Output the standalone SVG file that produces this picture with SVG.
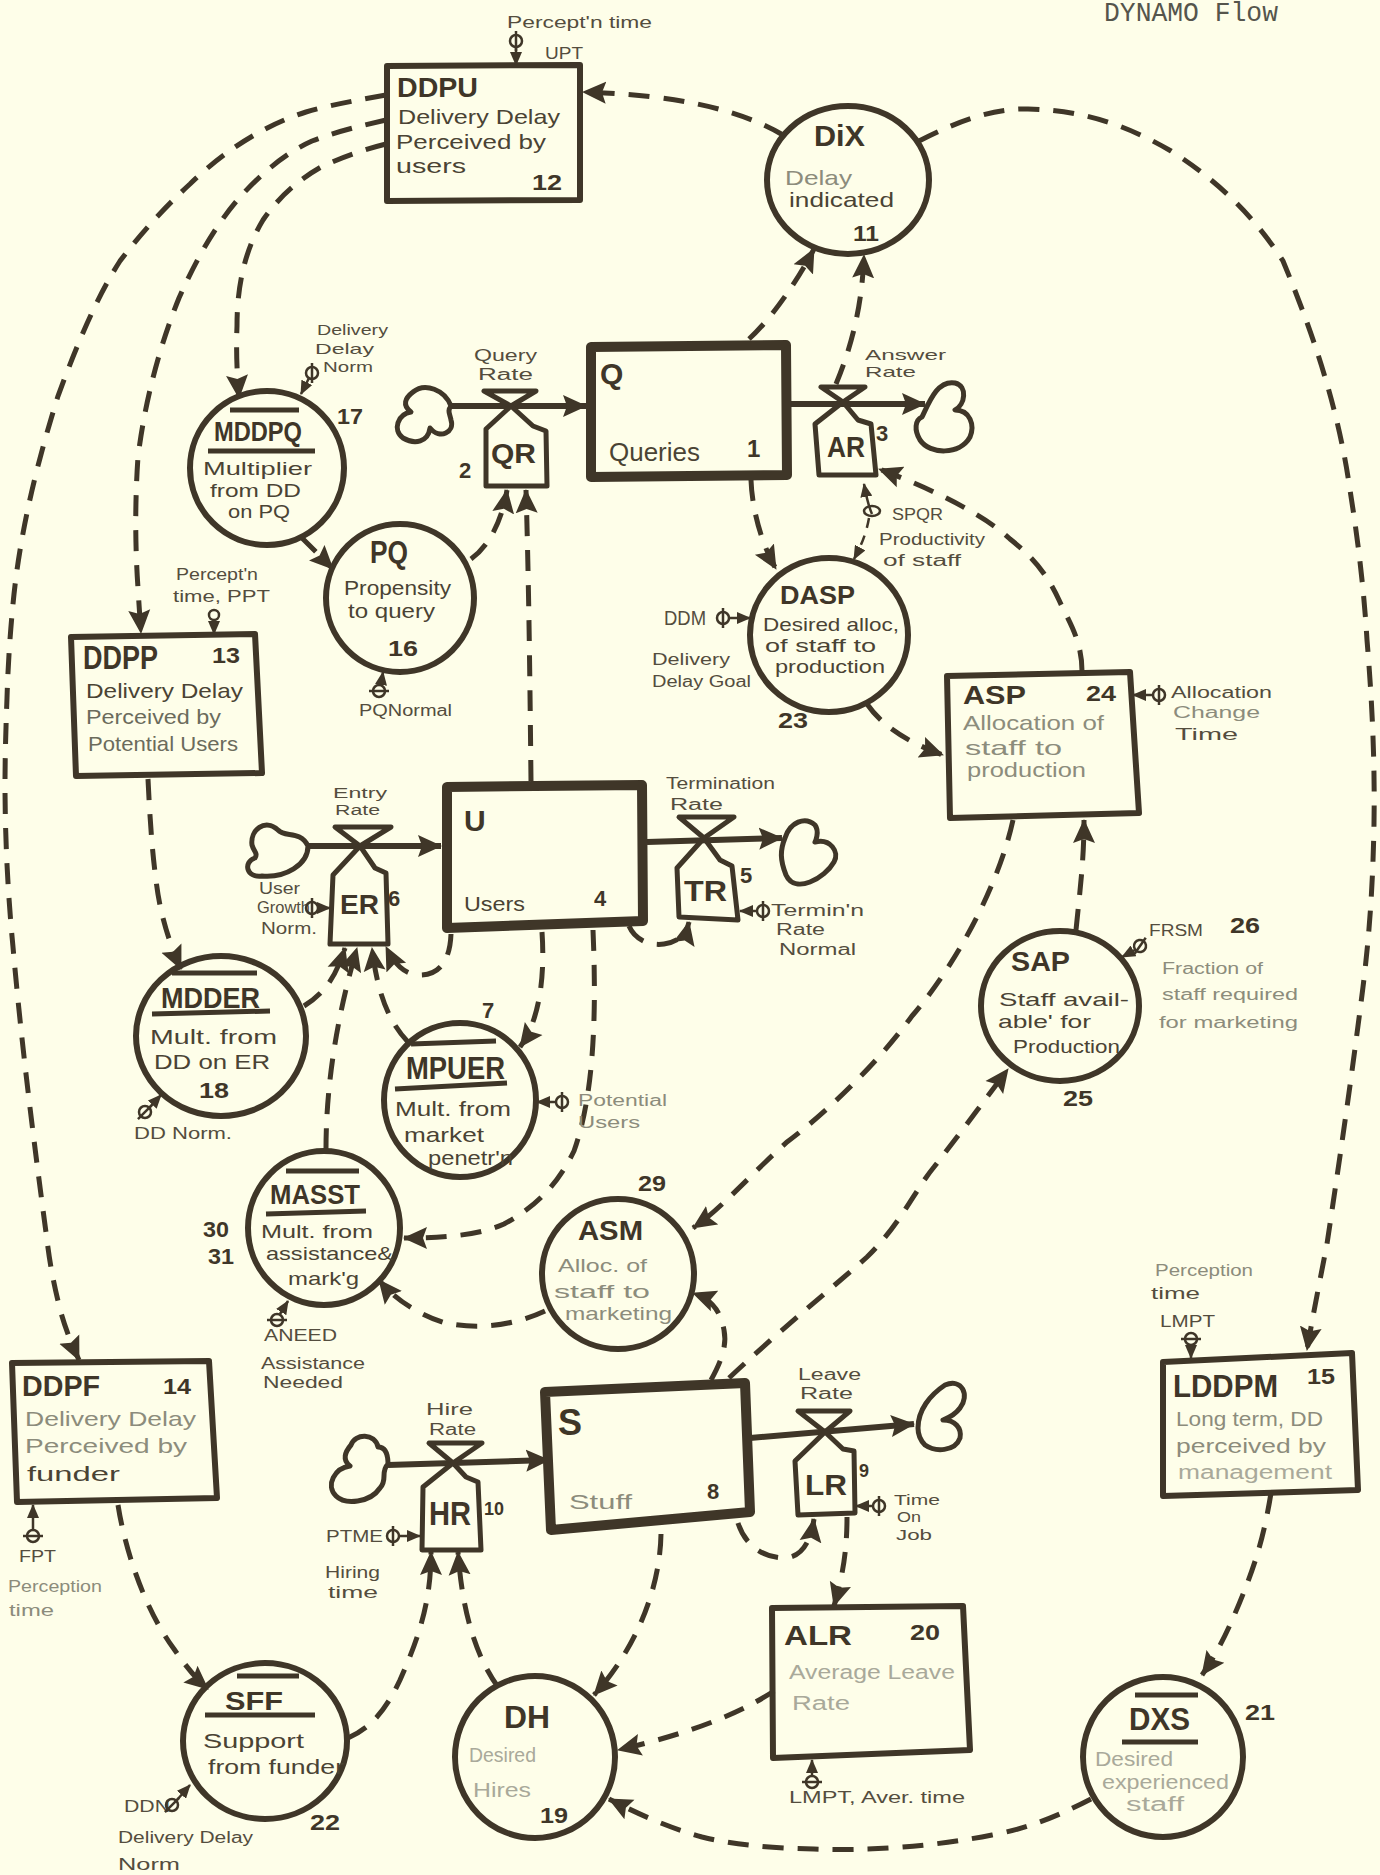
<svg xmlns="http://www.w3.org/2000/svg" width="1380" height="1875" viewBox="0 0 1380 1875">
<style>
text{font-family:"Liberation Sans",Arial,sans-serif;fill:#3f3628}
.n{font-weight:700;font-size:28px}
.c{font-weight:700;font-size:22px}
.l{font-size:21px;fill:#4a4334}
.m{font-size:19px;fill:#4a4334}
.f{font-size:21px;fill:#8c8c7c}
.g{font-size:20px;fill:#a9a99a}
.h{font-size:16px;fill:#544d3e}
.i{font-size:16px;fill:#8c8c7c}
.title{font-family:"Liberation Mono",monospace;font-size:28px;fill:#55554c}
.b{fill:none;stroke:#3f3628;stroke-width:6;stroke-linejoin:round}
.q{fill:none;stroke:#3f3628;stroke-width:10;stroke-linejoin:round}
.v{fill:none;stroke:#3f3628;stroke-width:5;stroke-linejoin:round}
.u{fill:none;stroke:#3f3628;stroke-width:5}
.d{fill:none;stroke:#3f3628;stroke-width:5;stroke-dasharray:21 14;marker-end:url(#a)}
.w{fill:none;stroke:#3f3628;stroke-width:6;marker-end:url(#a)}
.p{fill:none;stroke:#3f3628;stroke-width:2.5;marker-end:url(#s)}
</style>
<defs>
<marker id="a" markerUnits="userSpaceOnUse" viewBox="0 0 24 24" markerWidth="24" markerHeight="24" refX="23" refY="12" orient="auto"><path d="M0,1 L24,12 L0,23 L4,12Z" fill="#3f3628"/></marker>
<marker id="s" markerUnits="userSpaceOnUse" viewBox="0 0 14 12" markerWidth="14" markerHeight="12" refX="13" refY="6" orient="auto"><path d="M0,0 L14,6 L0,12Z" fill="#3f3628"/></marker>
<g id="phi"><circle cx="0" cy="0" r="6" fill="none" stroke="#3f3628" stroke-width="2.5"/><path d="M0,-10 V10" stroke="#3f3628" stroke-width="2.5" fill="none"/></g>
<g id="phh"><circle cx="0" cy="0" r="6" fill="none" stroke="#3f3628" stroke-width="2.5"/><path d="M-10,0 H10" stroke="#3f3628" stroke-width="2.5" fill="none"/></g>
</defs>
<rect width="1380" height="1875" fill="#fefee9"/>
<text class="title" x="1104" y="21" textLength="174" lengthAdjust="spacingAndGlyphs">DYNAMO Flow</text>

<g id="connectors">
<path class="d" d="M386,95 C358,100 330,105 306,112 C265,125 225,150 190,184 C165,207 142,232 120,261 C95,300 75,350 58,396 C38,460 20,530 13,604 C10,635 8,665 7,698 C6,725 5,755 5,783 C5,840 8,895 13,947 C22,1050 35,1150 47,1240 C50,1265 54,1285 60,1309 C65,1328 72,1345 79,1360"/>
<path class="d" d="M386,120 C360,126 335,132 312,141 C285,153 260,175 241,196 C215,225 195,262 179,298 C160,345 145,400 138,457 C135,500 135,545 138,588 C139,605 140,620 141,633"/>
<path class="d" d="M386,144 C362,150 340,158 321,167 C298,180 278,198 263,220 C245,250 237,285 237,326 C236,350 237,375 239,398"/>
<path class="d" d="M783,135 C740,110 680,95 583,92"/>
<path class="d" d="M919,141 C960,120 995,108 1028,109 C1090,110 1135,130 1171,151 C1225,185 1260,225 1283,261 C1320,350 1340,420 1350,490 C1358,540 1364,590 1367,640 C1372,700 1375,760 1374,824 C1373,880 1370,930 1363,987 C1350,1090 1338,1170 1327,1244 C1320,1280 1312,1320 1307,1350"/>
<path class="d" d="M749,339 C770,320 795,285 814,249"/>
<path class="d" d="M836,384 C850,350 862,310 864,255"/>
<path class="d" d="M751,480 C752,510 762,545 776,569"/>
<path class="d" d="M1082,671 C1082,640 1068,620 1059,600 C1045,570 1030,555 1010,539 C985,515 930,488 879,469"/>
<path class="d" d="M867,704 C885,730 915,745 943,755"/>
<path class="p" d="M872,514 C868,505 866,495 864,484"/>
<path class="p" stroke-dasharray="10 8" d="M869,518 C866,535 860,548 854,559"/>
<path class="d" d="M1076,930 C1080,890 1084,860 1084,820"/>
<path class="d" d="M1013,820 C1000,880 960,960 912,1016 C880,1060 830,1110 787,1142 C750,1175 720,1210 693,1228"/>
<path class="d" d="M729,1378 C780,1330 830,1290 867,1257 C900,1225 915,1190 934,1167 C955,1140 985,1100 1008,1069"/>
<path class="d" d="M301,537 L333,569"/>
<path class="d" d="M471,559 C490,545 502,520 507,490"/>
<path class="d" d="M531,781 C530,690 529,590 526,490"/>
<path class="d" d="M148,779 C150,820 152,850 156,880 C160,915 170,945 181,969"/>
<path class="d" d="M304,1006 C322,995 335,980 345,948"/>
<path class="d" d="M451,934 C450,960 440,975 420,975 C405,975 395,965 386,947"/>
<path class="d" d="M408,1042 C392,1025 378,1000 372,948"/>
<path class="d" d="M326,1149 C326,1110 330,1040 357,948"/>
<path class="d" d="M542,932 C545,975 540,1020 520,1047"/>
<path class="d" d="M593,930 C596,1000 596,1090 574,1151 C555,1190 530,1210 504,1224 C480,1235 445,1238 404,1238"/>
<path class="d" d="M629,926 C635,940 650,946 664,944 C678,942 686,935 689,922"/>
<path class="d" d="M545,1311 C515,1325 480,1330 445,1323 C420,1315 395,1300 379,1280"/>
<path class="d" d="M711,1380 C722,1360 727,1345 724,1330 C720,1310 712,1300 693,1293"/>
<path class="d" d="M661,1534 C660,1590 635,1650 594,1695"/>
<path class="d" d="M738,1523 C745,1545 762,1557 783,1558 C800,1558 810,1545 814,1519"/>
<path class="d" d="M847,1517 C847,1550 843,1575 834,1606"/>
<path class="d" d="M348,1738 C370,1728 385,1712 400,1680 C420,1635 431,1600 431,1552"/>
<path class="d" d="M498,1687 C475,1655 462,1610 458,1552"/>
<path class="d" d="M118,1505 C125,1550 145,1610 174,1649 C185,1665 195,1678 208,1689"/>
<path class="d" d="M774,1691 C730,1720 670,1738 618,1750"/>
<path class="d" d="M1091,1799 C1060,1815 1030,1828 992,1835 C930,1847 870,1851 814,1849 C770,1848 735,1845 702,1837 C670,1828 640,1815 609,1799"/>
<path class="d" d="M1271,1493 C1265,1530 1258,1555 1247,1584 C1235,1615 1220,1650 1202,1675"/>
<path class="w" d="M451,406 H586"/>
<path class="w" d="M790,404 H925"/>
<path class="w" d="M308,846 H441"/>
<path class="w" d="M647,842 L782,838"/>
<path class="w" d="M388,1465 L549,1460"/>
<path class="w" d="M750,1438 L914,1424"/>
</g>

<g id="DDPU"><path class="b" d="M387,66 L580,65 L580,200 L387,201Z"/><text class="n" x="397" y="97" textLength="81" lengthAdjust="spacingAndGlyphs">DDPU</text><text class="l" x="398" y="124" textLength="162" lengthAdjust="spacingAndGlyphs">Delivery Delay</text><text class="l" x="396" y="149" textLength="150" lengthAdjust="spacingAndGlyphs">Perceived by</text><text class="l" x="396" y="173" textLength="70" lengthAdjust="spacingAndGlyphs">users</text><text class="c" x="532" y="190" textLength="30" lengthAdjust="spacingAndGlyphs">12</text></g>

<g id="aux-UPT"><text class="h" x="507" y="28" textLength="145" lengthAdjust="spacingAndGlyphs">Percept'n time</text><text class="h" x="545" y="59" textLength="38" lengthAdjust="spacingAndGlyphs">UPT</text><use href="#phi" x="516" y="41"/><path class="p" d="M516,46 V65"/></g>

<g id="DiX"><ellipse class="b" cx="848" cy="180" rx="81" ry="74"/><text class="n" x="814" y="146" style="font-size:30px" textLength="51" lengthAdjust="spacingAndGlyphs">DiX</text><text class="f" x="785" y="185" textLength="67" lengthAdjust="spacingAndGlyphs">Delay</text><text class="l" x="789" y="207" textLength="105" lengthAdjust="spacingAndGlyphs">indicated</text><text class="c" x="853" y="241" textLength="26" lengthAdjust="spacingAndGlyphs">11</text></g>

<g id="Q"><path class="q" d="M591,347 L786,345 L787,475 L591,477Z"/><text class="n" x="600" y="384" style="font-size:30px">Q</text><text class="l" x="609" y="461" style="font-size:25px" textLength="91" lengthAdjust="spacingAndGlyphs">Queries</text><text class="c" x="747" y="457" style="font-size:24px">1</text></g>

<g id="QR"><path class="v" d="M484,391 L536,391 L511,406Z"/><path class="v" d="M511,406 L486,429 L486,486 L547,486 L546,431 L533,426Z"/><text class="n" x="491" y="463" textLength="45" lengthAdjust="spacingAndGlyphs">QR</text><text class="c" x="459" y="478">2</text><text class="h" x="474" y="361" textLength="63" lengthAdjust="spacingAndGlyphs">Query</text><text class="h" x="478" y="380" textLength="55" lengthAdjust="spacingAndGlyphs">Rate</text><path class="v" d="M451,406 C445,390 425,382 413,392 C405,398 402,405 411,412 C398,414 392,430 403,438 C415,445 428,442 430,428 C440,440 455,432 451,420 C450,414 447,411 451,406Z"/></g>

<g id="AR"><path class="v" d="M821,387 L865,387 L843,402Z"/><path class="v" d="M843,402 L815,424 L819,475 L876,475 L871,424 L858,420Z"/><text class="n" x="827" y="457" style="font-size:30px" textLength="38" lengthAdjust="spacingAndGlyphs">AR</text><text class="c" x="876" y="441">3</text><text class="h" x="865" y="360" style="font-size:15px" textLength="81" lengthAdjust="spacingAndGlyphs">Answer</text><text class="h" x="865" y="377" style="font-size:15px" textLength="51" lengthAdjust="spacingAndGlyphs">Rate</text><path class="v" d="M922,417 C930,400 938,380 955,383 C968,386 965,405 955,410 C970,410 975,425 970,437 C960,455 930,455 920,440 C914,430 915,420 922,417Z"/></g>

<g id="MDDPQ"><ellipse class="b" cx="267" cy="468" rx="77" ry="77"/><path class="u" d="M230,410 H299 M208,451 H315"/><text class="n" x="214" y="441" textLength="88" lengthAdjust="spacingAndGlyphs">MDDPQ</text><text class="m" x="203" y="475" textLength="109" lengthAdjust="spacingAndGlyphs">Multiplier</text><text class="m" x="210" y="497" textLength="91" lengthAdjust="spacingAndGlyphs">from DD</text><text class="m" x="228" y="518" textLength="62" lengthAdjust="spacingAndGlyphs">on PQ</text><text class="c" x="337" y="424" textLength="26" lengthAdjust="spacingAndGlyphs">17</text></g>

<g id="aux-DDN17"><text class="h" x="317" y="335" style="font-size:15px" textLength="71" lengthAdjust="spacingAndGlyphs">Delivery</text><text class="h" x="315" y="354" style="font-size:15px" textLength="59" lengthAdjust="spacingAndGlyphs">Delay</text><text class="h" x="323" y="372" style="font-size:15px" textLength="50" lengthAdjust="spacingAndGlyphs">Norm</text><use href="#phi" x="312" y="373"/><path class="p" d="M309,378 L301,394"/></g>

<g id="PQ"><ellipse class="b" cx="400" cy="598" rx="74" ry="74"/><text class="n" x="370" y="563" style="font-size:32px" textLength="38" lengthAdjust="spacingAndGlyphs">PQ</text><text class="l" x="344" y="595" textLength="107" lengthAdjust="spacingAndGlyphs">Propensity</text><text class="l" x="348" y="618" textLength="87" lengthAdjust="spacingAndGlyphs">to query</text><text class="c" x="388" y="656" textLength="30" lengthAdjust="spacingAndGlyphs">16</text></g>

<g id="aux-PQN"><text class="h" x="359" y="716" textLength="93" lengthAdjust="spacingAndGlyphs">PQNormal</text><use href="#phh" x="379" y="691"/><path class="p" d="M381,685 L383,672"/></g>

<g id="DASP"><ellipse class="b" cx="829" cy="635" rx="79" ry="77"/><text class="n" x="780" y="604" style="font-size:26px" textLength="75" lengthAdjust="spacingAndGlyphs">DASP</text><text class="m" x="763" y="631" textLength="136" lengthAdjust="spacingAndGlyphs">Desired alloc,</text><text class="m" x="765" y="652" textLength="111" lengthAdjust="spacingAndGlyphs">of staff to</text><text class="m" x="775" y="673" textLength="110" lengthAdjust="spacingAndGlyphs">production</text><text class="c" x="778" y="728" textLength="30" lengthAdjust="spacingAndGlyphs">23</text></g>

<g id="aux-DDM"><text class="h" x="664" y="625" style="font-size:20px" textLength="42" lengthAdjust="spacingAndGlyphs">DDM</text><use href="#phi" x="723" y="618"/><path class="p" d="M729,618 H750"/><text class="h" x="652" y="665" textLength="78" lengthAdjust="spacingAndGlyphs">Delivery</text><text class="h" x="652" y="687" textLength="99" lengthAdjust="spacingAndGlyphs">Delay Goal</text></g>

<g id="aux-SPQR"><ellipse cx="872" cy="511" rx="8" ry="5" fill="none" stroke="#3f3628" stroke-width="2.5"/><text class="h" x="892" y="520" textLength="51" lengthAdjust="spacingAndGlyphs">SPQR</text><text class="h" x="879" y="545" textLength="106" lengthAdjust="spacingAndGlyphs">Productivity</text><text class="h" x="883" y="566" textLength="78" lengthAdjust="spacingAndGlyphs">of staff</text></g>

<g id="ASP"><path class="b" d="M947,676 L1130,672 L1139,813 L950,818Z"/><text class="n" x="963" y="704" style="font-size:26px" textLength="63" lengthAdjust="spacingAndGlyphs">ASP</text><text class="c" x="1086" y="701" textLength="30" lengthAdjust="spacingAndGlyphs">24</text><text class="f" x="963" y="730" textLength="141" lengthAdjust="spacingAndGlyphs">Allocation of</text><text class="f" x="965" y="755" textLength="97" lengthAdjust="spacingAndGlyphs">staff to</text><text class="f" x="967" y="777" textLength="119" lengthAdjust="spacingAndGlyphs">production</text></g>

<g id="aux-ACT"><use href="#phi" x="1159" y="695"/><path class="p" d="M1153,695 H1133"/><text class="h" x="1171" y="698" textLength="101" lengthAdjust="spacingAndGlyphs">Allocation</text><text class="i" x="1173" y="718" textLength="87" lengthAdjust="spacingAndGlyphs">Change</text><text class="h" x="1175" y="740" textLength="63" lengthAdjust="spacingAndGlyphs">Time</text></g>

<g id="SAP"><ellipse class="b" cx="1060" cy="1006" rx="79" ry="75"/><text class="n" x="1011" y="971" textLength="59" lengthAdjust="spacingAndGlyphs">SAP</text><text class="m" x="999" y="1006" textLength="130" lengthAdjust="spacingAndGlyphs">Staff avail-</text><text class="m" x="998" y="1028" textLength="93" lengthAdjust="spacingAndGlyphs">able' for</text><text class="m" x="1013" y="1053" textLength="107" lengthAdjust="spacingAndGlyphs">Production</text><text class="c" x="1063" y="1106" textLength="30" lengthAdjust="spacingAndGlyphs">25</text></g>

<g id="aux-FRSM"><text class="h" x="1149" y="936" textLength="54" lengthAdjust="spacingAndGlyphs">FRSM</text><text class="c" x="1230" y="933" textLength="30" lengthAdjust="spacingAndGlyphs">26</text><use href="#phi" x="1140" y="946" transform="rotate(35 1140 946)"/><path class="p" d="M1135,950 L1122,957"/><text class="i" x="1162" y="974" textLength="101" lengthAdjust="spacingAndGlyphs">Fraction of</text><text class="i" x="1162" y="1000" textLength="136" lengthAdjust="spacingAndGlyphs">staff required</text><text class="i" x="1159" y="1028" textLength="139" lengthAdjust="spacingAndGlyphs">for marketing</text></g>

<g id="aux-PPT"><text class="h" x="176" y="580" textLength="82" lengthAdjust="spacingAndGlyphs">Percept'n</text><text class="h" x="173" y="602" textLength="97" lengthAdjust="spacingAndGlyphs">time, PPT</text><circle cx="214" cy="615" r="5" fill="none" stroke="#3f3628" stroke-width="2.5"/><path class="p" d="M214,620 V634"/></g>

<g id="DDPP"><path class="b" d="M71,637 L255,634 L262,773 L76,776Z"/><text class="n" x="83" y="669" style="font-size:34px" textLength="75" lengthAdjust="spacingAndGlyphs">DDPP</text><text class="c" x="212" y="663" textLength="28" lengthAdjust="spacingAndGlyphs">13</text><text class="l" x="86" y="698" textLength="157" lengthAdjust="spacingAndGlyphs">Delivery Delay</text><text class="f" x="86" y="724" style="fill:#6b6b5c" textLength="135" lengthAdjust="spacingAndGlyphs">Perceived by</text><text class="f" x="88" y="751" style="fill:#6b6b5c" textLength="150" lengthAdjust="spacingAndGlyphs">Potential Users</text></g>

<g id="U"><path class="q" d="M447,787 L642,785 L643,921 L447,928Z"/><text class="n" x="464" y="831" style="font-size:30px">U</text><text class="l" x="464" y="911" textLength="61" lengthAdjust="spacingAndGlyphs">Users</text><text class="c" x="594" y="906">4</text></g>

<g id="ER"><path class="v" d="M335,827 L391,827 L360,846Z"/><path class="v" d="M360,846 L333,875 L330,944 L388,944 L386,873 L375,868Z"/><text class="n" x="340" y="914" textLength="39" lengthAdjust="spacingAndGlyphs">ER</text><text class="c" x="388" y="906">6</text><text class="h" x="333" y="798" style="font-size:14px" textLength="54" lengthAdjust="spacingAndGlyphs">Entry</text><text class="h" x="335" y="815" style="font-size:14px" textLength="45" lengthAdjust="spacingAndGlyphs">Rate</text><path class="v" d="M308,846 C300,830 285,838 278,830 C265,818 250,830 252,845 C254,852 258,853 255,858 C243,862 246,878 262,876 C285,878 308,865 308,846Z"/></g>

<g id="aux-UGN"><text class="h" x="259" y="894" textLength="41" lengthAdjust="spacingAndGlyphs">User</text><text class="h" x="257" y="913" textLength="53" lengthAdjust="spacingAndGlyphs">Growth</text><text class="h" x="261" y="934" textLength="56" lengthAdjust="spacingAndGlyphs">Norm.</text><use href="#phi" x="312" y="908"/><path class="p" d="M318,908 H330"/></g>

<g id="TR"><path class="v" d="M679,817 L734,817 L704,838Z"/><path class="v" d="M704,838 L677,868 L679,917 L738,920 L732,866 L720,860Z"/><text class="n" x="684" y="901" style="font-size:30px" textLength="43" lengthAdjust="spacingAndGlyphs">TR</text><text class="c" x="740" y="883">5</text><text class="h" x="666" y="789" textLength="109" lengthAdjust="spacingAndGlyphs">Termination</text><text class="h" x="670" y="810" textLength="53" lengthAdjust="spacingAndGlyphs">Rate</text><path class="v" d="M785,838 C790,822 805,816 815,825 C820,832 815,842 815,842 C830,838 840,852 834,862 C825,878 795,895 786,875 C780,860 780,850 785,838Z"/></g>

<g id="aux-TRN"><use href="#phi" x="763" y="911"/><path class="p" d="M757,911 H740"/><text class="h" x="771" y="916" textLength="93" lengthAdjust="spacingAndGlyphs">Termin'n</text><text class="h" x="776" y="935" textLength="49" lengthAdjust="spacingAndGlyphs">Rate</text><text class="h" x="779" y="955" textLength="77" lengthAdjust="spacingAndGlyphs">Normal</text></g>

<g id="MDDER"><ellipse class="b" cx="221" cy="1036" rx="85" ry="80"/><path class="u" d="M172,973 H257 M152,1014 L270,1011"/><text class="n" x="161" y="1008" style="font-size:30px" textLength="99" lengthAdjust="spacingAndGlyphs">MDDER</text><text class="l" x="150" y="1044" textLength="127" lengthAdjust="spacingAndGlyphs">Mult. from</text><text class="l" x="154" y="1069" textLength="116" lengthAdjust="spacingAndGlyphs">DD on ER</text><text class="c" x="199" y="1098" textLength="30" lengthAdjust="spacingAndGlyphs">18</text></g>

<g id="aux-DDNorm18"><use href="#phi" x="145" y="1112" transform="rotate(45 145 1112)"/><path class="p" d="M150,1107 L161,1095"/><text class="h" x="134" y="1139" textLength="98" lengthAdjust="spacingAndGlyphs">DD Norm.</text></g>

<g id="MPUER"><ellipse class="b" cx="460" cy="1100" rx="76" ry="77"/><path class="u" d="M411,1044 L496,1041 M395,1089 L507,1083"/><text class="n" x="406" y="1079" style="font-size:32px" textLength="99" lengthAdjust="spacingAndGlyphs">MPUER</text><text class="l" x="395" y="1116" textLength="116" lengthAdjust="spacingAndGlyphs">Mult. from</text><text class="l" x="404" y="1142" textLength="80" lengthAdjust="spacingAndGlyphs">market</text><text class="l" x="428" y="1165" textLength="85" lengthAdjust="spacingAndGlyphs">penetr'n</text><text class="c" x="482" y="1018">7</text></g>

<g id="aux-PU"><use href="#phi" x="562" y="1102"/><path class="p" d="M556,1102 H537"/><text class="i" x="578" y="1106" textLength="89" lengthAdjust="spacingAndGlyphs">Potential</text><text class="i" x="578" y="1128" textLength="62" lengthAdjust="spacingAndGlyphs">Users</text></g>

<g id="MASST"><ellipse class="b" cx="324" cy="1228" rx="76" ry="77"/><path class="u" d="M286,1171 H359 M266,1214 L366,1211"/><text class="n" x="270" y="1204" textLength="90" lengthAdjust="spacingAndGlyphs">MASST</text><text class="m" x="261" y="1238" textLength="112" lengthAdjust="spacingAndGlyphs">Mult. from</text><text class="m" x="266" y="1260" textLength="127" lengthAdjust="spacingAndGlyphs">assistance&amp;</text><text class="m" x="288" y="1285" textLength="71" lengthAdjust="spacingAndGlyphs">mark'g</text><text class="c" x="203" y="1237" textLength="26" lengthAdjust="spacingAndGlyphs">30</text><text class="c" x="208" y="1264" textLength="26" lengthAdjust="spacingAndGlyphs">31</text></g>

<g id="aux-ANEED"><use href="#phh" x="277" y="1320"/><path class="p" d="M280,1314 L288,1301"/><text class="h" x="264" y="1341" textLength="73" lengthAdjust="spacingAndGlyphs">ANEED</text><text class="h" x="261" y="1369" textLength="104" lengthAdjust="spacingAndGlyphs">Assistance</text><text class="h" x="263" y="1388" textLength="80" lengthAdjust="spacingAndGlyphs">Needed</text></g>

<g id="ASM"><ellipse class="b" cx="618" cy="1274" rx="76" ry="75"/><text class="n" x="578" y="1240" textLength="65" lengthAdjust="spacingAndGlyphs">ASM</text><text class="c" x="638" y="1191" textLength="28" lengthAdjust="spacingAndGlyphs">29</text><text class="f" x="558" y="1272" style="font-size:19px" textLength="89" lengthAdjust="spacingAndGlyphs">Alloc. of</text><text class="f" x="554" y="1298" style="font-size:19px" textLength="96" lengthAdjust="spacingAndGlyphs">staff to</text><text class="f" x="565" y="1320" style="font-size:19px" textLength="107" lengthAdjust="spacingAndGlyphs">marketing</text></g>

<g id="S"><path class="q" d="M545,1392 L745,1383 L750,1512 L551,1530Z"/><text class="n" x="558" y="1435" style="font-size:36px">S</text><text class="f" x="569" y="1509" textLength="63" lengthAdjust="spacingAndGlyphs">Stuff</text><text class="c" x="707" y="1499">8</text></g>

<g id="HR"><path class="v" d="M429,1443 L482,1443 L453,1463Z"/><path class="v" d="M453,1463 L423,1487 L422,1550 L481,1550 L478,1482 L466,1477Z"/><text class="n" x="429" y="1525" style="font-size:34px" textLength="42" lengthAdjust="spacingAndGlyphs">HR</text><text class="c" x="484" y="1515" style="font-size:18px" textLength="20" lengthAdjust="spacingAndGlyphs">10</text><text class="h" x="426" y="1415" textLength="47" lengthAdjust="spacingAndGlyphs">Hire</text><text class="h" x="429" y="1435" textLength="47" lengthAdjust="spacingAndGlyphs">Rate</text><path class="v" d="M388,1464 C388,1452 384,1447 378,1447 C375,1433 355,1433 351,1445 C345,1452 342,1460 350,1466 C335,1468 325,1485 336,1496 C345,1505 370,1503 380,1488 C388,1480 380,1472 388,1464Z"/></g>

<g id="aux-PTME"><text class="h" x="326" y="1542" textLength="57" lengthAdjust="spacingAndGlyphs">PTME</text><use href="#phi" x="393" y="1536"/><path class="p" d="M399,1536 H420"/><text class="h" x="325" y="1578" textLength="55" lengthAdjust="spacingAndGlyphs">Hiring</text><text class="h" x="328" y="1598" textLength="50" lengthAdjust="spacingAndGlyphs">time</text></g>

<g id="LR"><path class="v" d="M798,1411 L850,1411 L825,1432Z"/><path class="v" d="M825,1432 L795,1461 L798,1515 L855,1513 L854,1451 L843,1449Z"/><text class="n" x="805" y="1495" style="font-size:30px" textLength="42" lengthAdjust="spacingAndGlyphs">LR</text><text class="c" x="859" y="1477" style="font-size:18px">9</text><text class="h" x="798" y="1380" textLength="63" lengthAdjust="spacingAndGlyphs">Leave</text><text class="h" x="800" y="1399" textLength="53" lengthAdjust="spacingAndGlyphs">Rate</text><path class="v" d="M918,1428 C918,1410 930,1395 945,1385 C962,1378 970,1395 960,1408 C955,1415 948,1418 943,1420 C955,1420 962,1428 960,1438 C955,1452 935,1452 925,1445 C920,1440 918,1435 918,1428Z"/></g>

<g id="aux-TOJ"><use href="#phi" x="879" y="1506"/><path class="p" d="M873,1506 H856"/><text class="h" x="894" y="1505" style="font-size:14px" textLength="46" lengthAdjust="spacingAndGlyphs">Time</text><text class="h" x="897" y="1522" style="font-size:14px" textLength="24" lengthAdjust="spacingAndGlyphs">On</text><text class="h" x="896" y="1540" style="font-size:14px" textLength="36" lengthAdjust="spacingAndGlyphs">Job</text></g>

<g id="ALR"><path class="b" d="M772,1608 L963,1606 L970,1750 L773,1758Z"/><text class="n" x="784" y="1645" textLength="68" lengthAdjust="spacingAndGlyphs">ALR</text><text class="c" x="910" y="1640" textLength="30" lengthAdjust="spacingAndGlyphs">20</text><text class="g" x="789" y="1679" textLength="166" lengthAdjust="spacingAndGlyphs">Average Leave</text><text class="g" x="792" y="1710" textLength="58" lengthAdjust="spacingAndGlyphs">Rate</text></g>

<g id="aux-LMPT20"><use href="#phh" x="812" y="1782"/><path class="p" d="M812,1776 V1760"/><text class="h" x="789" y="1803" textLength="176" lengthAdjust="spacingAndGlyphs">LMPT, Aver. time</text></g>

<g id="LDDPM"><path class="b" d="M1163,1362 L1352,1353 L1358,1490 L1163,1496Z"/><text class="n" x="1173" y="1397" style="font-size:32px" textLength="105" lengthAdjust="spacingAndGlyphs">LDDPM</text><text class="c" x="1307" y="1384" textLength="28" lengthAdjust="spacingAndGlyphs">15</text><text class="f" x="1176" y="1426" textLength="147" lengthAdjust="spacingAndGlyphs">Long term, DD</text><text class="f" x="1176" y="1453" textLength="150" lengthAdjust="spacingAndGlyphs">perceived by</text><text class="g" x="1178" y="1479" textLength="154" lengthAdjust="spacingAndGlyphs">management</text></g>

<g id="aux-LMPT15"><text class="i" x="1155" y="1276" textLength="98" lengthAdjust="spacingAndGlyphs">Perception</text><text class="h" x="1151" y="1299" textLength="49" lengthAdjust="spacingAndGlyphs">time</text><text class="h" x="1160" y="1327" textLength="55" lengthAdjust="spacingAndGlyphs">LMPT</text><use href="#phh" x="1191" y="1339"/><path class="p" d="M1191,1345 V1358"/></g>

<g id="DXS"><ellipse class="b" cx="1163" cy="1757" rx="80" ry="80"/><path class="u" d="M1135,1695 H1198 M1122,1742 H1198"/><text class="n" x="1129" y="1730" style="font-size:32px" textLength="61" lengthAdjust="spacingAndGlyphs">DXS</text><text class="g" x="1095" y="1766" textLength="78" lengthAdjust="spacingAndGlyphs">Desired</text><text class="g" x="1102" y="1789" textLength="127" lengthAdjust="spacingAndGlyphs">experienced</text><text class="g" x="1126" y="1811" textLength="58" lengthAdjust="spacingAndGlyphs">staff</text><text class="c" x="1245" y="1720" textLength="30" lengthAdjust="spacingAndGlyphs">21</text></g>

<g id="DDPF"><path class="b" d="M12,1363 L209,1361 L217,1498 L17,1502Z"/><text class="n" x="22" y="1396" style="font-size:30px" textLength="78" lengthAdjust="spacingAndGlyphs">DDPF</text><text class="c" x="163" y="1394" textLength="28" lengthAdjust="spacingAndGlyphs">14</text><text class="f" x="25" y="1426" textLength="171" lengthAdjust="spacingAndGlyphs">Delivery Delay</text><text class="f" x="25" y="1453" textLength="162" lengthAdjust="spacingAndGlyphs">Perceived by</text><text class="l" x="27" y="1481" textLength="93" lengthAdjust="spacingAndGlyphs">funder</text></g>

<g id="aux-FPT"><use href="#phh" x="33" y="1536"/><path class="p" d="M33,1530 V1505"/><text class="h" x="19" y="1562" textLength="37" lengthAdjust="spacingAndGlyphs">FPT</text><text class="i" x="8" y="1592" textLength="94" lengthAdjust="spacingAndGlyphs">Perception</text><text class="i" x="9" y="1616" textLength="45" lengthAdjust="spacingAndGlyphs">time</text></g>

<g id="SFF"><ellipse class="b" cx="265" cy="1741" rx="82" ry="78"/><path class="u" d="M237,1676 H299 M205,1715 H315"/><text class="n" x="225" y="1710" style="font-size:26px" textLength="58" lengthAdjust="spacingAndGlyphs">SFF</text><text class="l" x="203" y="1748" textLength="101" lengthAdjust="spacingAndGlyphs">Support</text><text class="l" x="208" y="1774" textLength="136" lengthAdjust="spacingAndGlyphs">from funder</text><text class="c" x="310" y="1830" textLength="30" lengthAdjust="spacingAndGlyphs">22</text></g>

<g id="aux-DDN22"><text class="h" x="124" y="1812" textLength="46" lengthAdjust="spacingAndGlyphs">DDN</text><use href="#phi" x="172" y="1805" transform="rotate(45 172 1805)"/><path class="p" d="M177,1800 L190,1785"/><text class="h" x="118" y="1843" textLength="135" lengthAdjust="spacingAndGlyphs">Delivery Delay</text><text class="h" x="118" y="1870" textLength="62" lengthAdjust="spacingAndGlyphs">Norm</text></g>

<g id="DH"><ellipse class="b" cx="535" cy="1757" rx="80" ry="81"/><text class="n" x="504" y="1728" style="font-size:32px" textLength="46" lengthAdjust="spacingAndGlyphs">DH</text><text class="g" x="469" y="1762" textLength="67" lengthAdjust="spacingAndGlyphs">Desired</text><text class="g" x="473" y="1797" textLength="58" lengthAdjust="spacingAndGlyphs">Hires</text><text class="c" x="540" y="1823" textLength="28" lengthAdjust="spacingAndGlyphs">19</text></g>
</svg>
